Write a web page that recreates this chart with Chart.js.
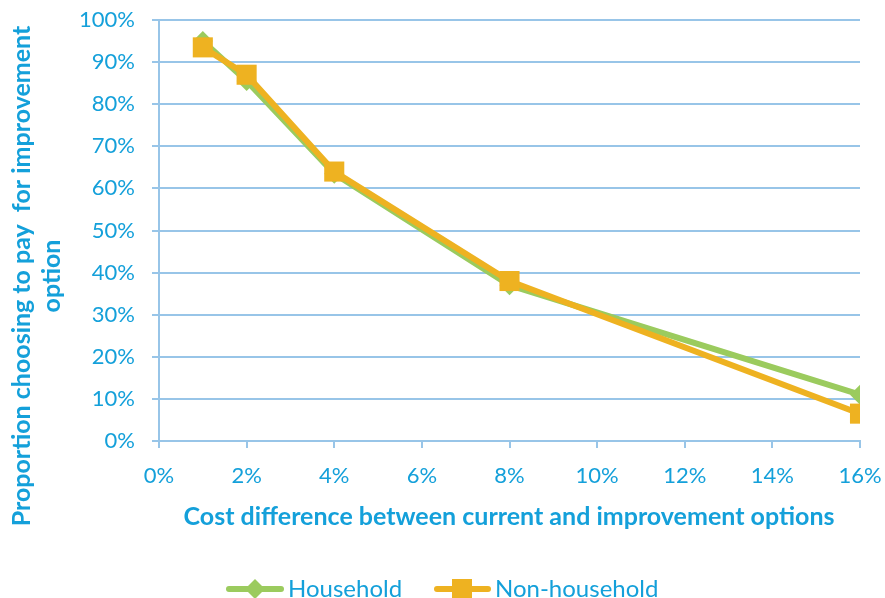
<!DOCTYPE html>
<html>
<head>
<meta charset="utf-8">
<script src="https://cdn.jsdelivr.net/npm/chart.js@4/dist/chart.umd.min.js"></script>
<style>
  html, body { margin: 0; padding: 0; background: #ffffff; }
  #wrap { width: 885px; height: 598px; position: relative; }
</style>
</head>
<body>
<div id="wrap"><canvas id="chart" width="885" height="598"></canvas></div>
<script>
// Cost difference (%) between current and improvement options
const costDiff = [1, 2, 4, 8, 16];
// Proportion (%) choosing to pay for the improvement option
const household = [95, 85.5, 63.5, 37, 11];
const nonHousehold = [93.5, 87, 64, 38, 6.5];

const seriesNames = ['Household', 'Non-household'];
const xTitle = 'Cost difference between current and improvement options';
const yTitleLines = ['Proportion choosing to pay  for improvement', 'option'];

const TEXT = '#14a0da';
const GRID = '#98c5e8';
const GREEN = '#9bcb5e';
const ORANGE = '#eeb221';
const FONT = 'Lato, "Open Sans", sans-serif';

const toPoints = (vals) => vals.map((v, i) => ({ x: costDiff[i], y: v }));

// Keep the plot area fixed: labels may overhang into the layout padding
const noAutoPadding = (scale) => {
  scale.paddingTop = 0;
  scale.paddingBottom = 0;
  scale.paddingLeft = 0;
  scale.paddingRight = 0;
};

// Axis titles and the line+marker legend
const decorations = {
  id: 'decorations',
  afterDraw(chart) {
    const ctx = chart.ctx;
    ctx.save();
    ctx.fillStyle = TEXT;
    ctx.font = 'bold 25px ' + FONT;
    ctx.textAlign = 'center';
    ctx.textBaseline = 'middle';
    ctx.fillText(xTitle, 509, 517);

    ctx.save();
    ctx.translate(0, 276);
    ctx.rotate(-Math.PI / 2);
    ctx.fillText(yTitleLines[0], 0, 22);
    ctx.fillText(yTitleLines[1], 0, 52);
    ctx.restore();

    const ly = 589;
    // Household entry
    ctx.strokeStyle = GREEN;
    ctx.lineWidth = 6;
    ctx.lineCap = 'round';
    ctx.beginPath(); ctx.moveTo(229, ly); ctx.lineTo(281, ly); ctx.stroke();
    ctx.fillStyle = GREEN;
    ctx.beginPath();
    ctx.moveTo(255, ly - 10); ctx.lineTo(265, ly); ctx.lineTo(255, ly + 10); ctx.lineTo(245, ly);
    ctx.closePath(); ctx.fill();
    // Non-household entry
    ctx.strokeStyle = ORANGE;
    ctx.beginPath(); ctx.moveTo(437, ly); ctx.lineTo(488, ly); ctx.stroke();
    ctx.fillStyle = ORANGE;
    ctx.fillRect(452, ly - 10, 20, 20);

    ctx.fillStyle = TEXT;
    ctx.font = '24px ' + FONT;
    ctx.textAlign = 'left';
    ctx.fillText(seriesNames[0], 288, ly);
    ctx.fillText(seriesNames[1], 495, ly);
    ctx.restore();
  }
};

new Chart(document.getElementById('chart'), {
  type: 'line',
  data: {
    datasets: [
      {
        label: seriesNames[0],
        data: toPoints(household),
        borderColor: GREEN,
        backgroundColor: GREEN,
        borderWidth: 6,
        pointStyle: 'rectRot',
        pointRadius: 10,
        pointBorderWidth: 0,
        order: 2
      },
      {
        label: seriesNames[1],
        data: toPoints(nonHousehold),
        borderColor: ORANGE,
        backgroundColor: ORANGE,
        borderWidth: 6,
        pointStyle: 'rect',
        pointRadius: 14.2,
        pointBorderWidth: 0,
        order: 1
      }
    ]
  },
  plugins: [decorations],
  options: {
    responsive: false,
    animation: false,
    layout: { padding: { left: 0, right: 25, top: 20, bottom: 97 } },
    plugins: {
      legend: { display: false },
      tooltip: { enabled: false }
    },
    scales: {
      x: {
        type: 'linear',
        min: 0,
        max: 16,
        afterFit(scale) { scale.height = 60; noAutoPadding(scale); },
        ticks: {
          stepSize: 2,
          padding: 15,
          color: TEXT,
          font: { family: FONT, size: 22 },
          maxRotation: 0,
          callback: (v) => v + '%'
        },
        grid: {
          drawOnChartArea: false,
          drawTicks: true,
          tickLength: 7,
          color: GRID,
          lineWidth: 2
        },
        border: { display: true, color: GRID, width: 2 }
      },
      y: {
        min: 0,
        max: 100,
        afterFit(scale) { scale.width = 159; noAutoPadding(scale); },
        ticks: {
          stepSize: 10,
          padding: 17,
          color: TEXT,
          font: { family: FONT, size: 22 },
          callback: (v) => v + '%'
        },
        grid: {
          color: GRID,
          lineWidth: 2,
          drawTicks: true,
          tickLength: 7
        },
        border: { display: true, color: GRID, width: 2 }
      }
    }
  }
});
</script>
</body>
</html>
